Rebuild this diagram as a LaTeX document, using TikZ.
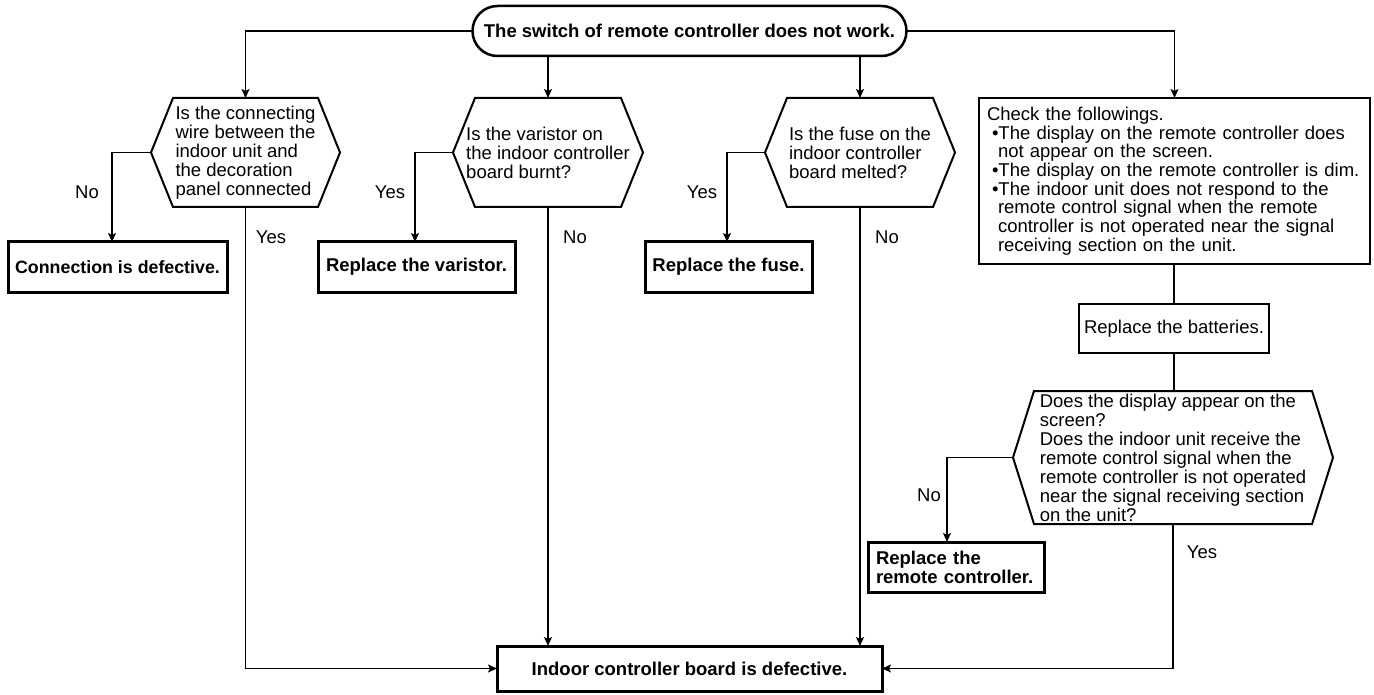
\documentclass[tikz,border=0pt]{standalone}
\usepackage{fontspec}
\setmainfont{Liberation Sans}
\usetikzlibrary{arrows.meta,positioning,shapes.misc}
\begin{document}
\begin{tikzpicture}[x=1pt,y=-1pt,
  every node/.style={inner sep=0pt,outer sep=0pt},
  conn/.style={line width=1.3pt,-{Stealth[length=9pt,width=8pt,inset=2pt]}},
  plain/.style={line width=1.3pt},
  hexbox/.style={font=\fontsize{18.5}{19}\selectfont,align=left},
  hexline/.style={line width=2pt,line join=miter},
  resultbox/.style={draw,line width=3pt,font=\bfseries\fontsize{18.5}{19}\selectfont,align=left},
  thinbox/.style={draw,line width=2pt,font=\fontsize{18.5}{18.7}\selectfont,align=left},
  lbl/.style={font=\fontsize{18.5}{19}\selectfont}]
\useasboundingbox (0,0) rectangle (1374,695);

% start terminator
\node[draw,line width=2.5pt,rounded rectangle,minimum width=434,minimum height=50,
  font=\bfseries\fontsize{18.5}{19}\selectfont] (start) at (689.5,31) {The switch of remote controller does not work.};

% hexagon frames (named, text placed inside)
\newcommand{\hexdraw}[2]{\draw[hexline] (#1.west) -- ([xshift=#2]#1.north west) -- ([xshift=-#2]#1.north east) -- (#1.east) -- ([xshift=-#2]#1.south east) -- ([xshift=#2]#1.south west) -- cycle;}

\node[hexbox,minimum width=189,minimum height=109] (h1) at (245.5,152.5)
  {Is the connecting\\wire between the\\indoor unit and\\the decoration\\panel connected};
\hexdraw{h1}{22}
\node[hexbox,minimum width=190,minimum height=109] (h2) at (548,152.5)
  {Is the varistor on\\the indoor controller\\board burnt?};
\hexdraw{h2}{22}
\node[hexbox,minimum width=190,minimum height=109] (h3) at (860,152.5)
  {Is the fuse on the\\indoor controller\\board melted?};
\hexdraw{h3}{22}

% check box
\node[thinbox,minimum width=391,minimum height=166,text width=375] (chk) at (1174.5,181)
  {Check the followings.\\
   \hspace*{5pt}\textbullet The display on the remote controller does\\
   \hspace*{11pt}not appear on the screen.\\
   \hspace*{5pt}\textbullet The display on the remote controller is dim.\\
   \hspace*{5pt}\textbullet The indoor unit does not respond to the\\
   \hspace*{11pt}remote control signal when the remote\\
   \hspace*{11pt}controller is not operated near the signal\\
   \hspace*{11pt}receiving section on the unit.};

\node[thinbox,minimum width=190,minimum height=49] (bat) at (1174,328.5) {Replace the batteries.};

\node[hexbox,minimum width=320,minimum height=133] (h4) at (1173,457.5)
  {Does the display appear on the\\screen?\\Does the indoor unit receive the\\remote control signal when the\\remote controller is not operated\\near the signal receiving section\\on the unit?};
\hexdraw{h4}{21}

% result boxes
\node[resultbox,minimum width=219,minimum height=50,font=\bfseries\fontsize{17.8}{19}\selectfont] (r1) at (117.5,267) {Connection is defective.};
\node[resultbox,minimum width=197,minimum height=50] (r2) at (416.5,267) {Replace the varistor.};
\node[resultbox,minimum width=167,minimum height=50] (r3) at (728.5,267) {Replace the fuse.};
\node[resultbox,minimum width=176,minimum height=50,text width=160] (r4) at (956,567) {Replace the\\remote controller.};
\node[resultbox,minimum width=385,minimum height=45] (fin) at (689.5,668.5) {Indoor controller board is defective.};

% connectors from start
\draw[conn] (start.west) -| (h1.north);
\draw[conn] (start.south -| h2.north) -- (h2.north);
\draw[conn] (start.south -| h3.north) -- (h3.north);
\draw[conn] (start.east) -| (chk.north);

% branches
\draw[conn] (h1.west) -| (r1.north -| 112,0);
\draw[conn] (h2.west) -| (r2.north -| 415,0);
\draw[conn] (h3.west) -| (r3.north -| 727,0);
\draw[conn] (h4.west) -| (r4.north -| 947,0);

\draw[conn] (h1.south) |- (fin.west);
\draw[conn] (h2.south) -- (h2.south |- fin.north);
\draw[conn] (h3.south) -- (h3.south |- fin.north);
\draw[conn] (h4.south) |- (fin.east);

\draw[plain] (chk.south -| bat.north) -- (bat.north);
\draw[plain] (bat.south) -- (bat.south |- h4.north);

% labels
\node[lbl] (l1) at (87,192) {No};
\node[lbl] (l2) at (271,237) {Yes};
\node[lbl] (l3) at (390,192) {Yes};
\node[lbl] (l4) at (575,237) {No};
\node[lbl] (l5) at (702,192) {Yes};
\node[lbl] (l6) at (887,237) {No};
\node[lbl] (l7) at (929,495) {No};
\node[lbl] (l8) at (1202,552) {Yes};
\end{tikzpicture}
\end{document}
